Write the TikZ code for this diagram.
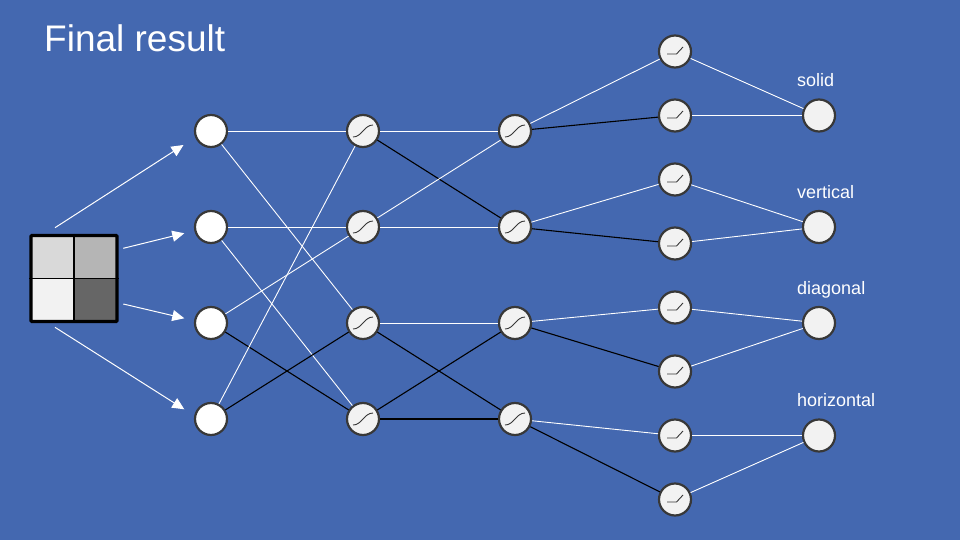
\documentclass[tikz,border=0pt]{standalone}
\usepackage{fontspec}
\setmainfont{Liberation Sans}
\usetikzlibrary{positioning, arrows.meta}
\definecolor{slide}{HTML}{4468B0}
\definecolor{rim}{HTML}{383838}
\definecolor{unitfill}{HTML}{F2F2F2}
\tikzset{node distance=96pt, % centre to centre within a layer
inp/.style={ % plain input neuron
circle, draw=rim, line width=2.2pt,
fill=white, minimum size=32pt, inner sep=0pt},
unit/.style={inp, fill=unitfill},
sig/.style={unit, % neuron with a sigmoid sketch
path picture={\draw[rim, line width=.9pt]
([xshift=-10pt,yshift=-6pt]path picture bounding box.center)
.. controls +(9pt,0pt) and +(-9pt,0pt) ..
([xshift=10pt,yshift=6pt]path picture bounding box.center);}},
relu/.style={unit, % neuron with a relu sketch
path picture={\draw[rim, line width=.9pt]
([xshift=-8pt,yshift=-2.5pt]path picture bounding box.center)
-- ++(9.5pt,0pt) -- ++(6.5pt,7pt);}},
every edge/.style={ % the wires between layers
draw, white, line width=.9pt},
neg/.style={black, line width=1.1pt},
arr/.style={draw, white, line width=1pt, -{Triangle[width=11pt,length=12pt]}},
lbl/.style={text=white, inner sep=0pt, anchor=base west,
font=\fontsize{18}{21}\selectfont}}

\begin{document}
\begin{tikzpicture}[x=1pt, y=-1pt]

    \fill[slide] (0,0) rectangle (960,540);
    \node[text=white, inner sep=0pt, anchor=base west, font=\fontsize{37}{44}\selectfont] (title) at (44,51.7) {Final result};

    % input picture
    \node[draw=black, line width=3.3pt, minimum size=86pt, inner sep=0pt, rounded corners=1pt,
      path picture={
        \fill[black!15] (path picture bounding box.north west) rectangle (path picture bounding box.center);
        \fill[black!29] (path picture bounding box.north east) rectangle (path picture bounding box.center);
        \fill[unitfill] (path picture bounding box.south west) rectangle (path picture bounding box.center);
        \fill[black!60] (path picture bounding box.south east) rectangle (path picture bounding box.center);
      }] (img) at (74,278.5) {};
    \draw[line width=1.3pt] (img.north) -- (img.south);
    \draw[line width=1.3pt] (img.west) -- (img.east);

    \node[inp] (i1) at (211,131) {};
    \node[inp, below of=i1] (i2) {};
    \node[inp, below of=i2] (i3) {};
    \node[inp, below of=i3] (i4) {};

    \node[sig, right of=i1, node distance=152pt] (h1) {};
    \node[sig, below of=h1] (h2) {};
    \node[sig, below of=h2] (h3) {};
    \node[sig, below of=h3] (h4) {};

    \node[sig, right of=h1, node distance=152pt] (m1) {};
    \node[sig, below of=m1] (m2) {};
    \node[sig, below of=m2] (m3) {};
    \node[sig, below of=m3] (m4) {};

    \node[relu] (r1) at (675,51.5) {};
    \node[relu, below of=r1, node distance=64pt] (r2) {};
    \node[relu, below of=r2, node distance=64pt] (r3) {};
    \node[relu, below of=r3, node distance=64pt] (r4) {};
    \node[relu, below of=r4, node distance=64pt] (r5) {};
    \node[relu, below of=r5, node distance=64pt] (r6) {};
    \node[relu, below of=r6, node distance=64pt] (r7) {};
    \node[relu, below of=r7, node distance=64pt] (r8) {};

    \node[unit, right of=r2, node distance=144pt] (o1) {};
    \node[unit, right of=m2, node distance=304pt] (o2) {};
    \node[unit, right of=m3, node distance=304pt] (o3) {};
    \node[unit, right of=r7, node distance=144pt] (o4) {};

    \node[lbl] (l1) at ([shift={(-22,-29)}]o1.center) {solid};
    \node[lbl] (l2) at ([shift={(-22,-29)}]o2.center) {vertical};
    \node[lbl] (l3) at ([shift={(-22,-29)}]o3.center) {diagonal};
    \node[lbl] (l4) at ([shift={(-22,-29)}]o4.center) {horizontal};

    % picture to inputs
    \coordinate (a1) at (55,227.7);
    \coordinate (b1) at (183.5,145);
    \coordinate (a2) at (123.3,248.3);
    \coordinate (b2) at (184.3,233.3);
    \coordinate (a3) at (123.3,304);
    \coordinate (b3) at (184.3,318.3);
    \coordinate (a4) at (55,327.3);
    \coordinate (b4) at (184.3,409.3);
    \draw[arr] (a1) -- (b1);
    \draw[arr] (a2) -- (b2);
    \draw[arr] (a3) -- (b3);
    \draw[arr] (a4) -- (b4);

    \draw (i1) edge (h1);
    \draw (i1) edge (h3);
    \draw (i2) edge (h2);
    \draw (i2) edge (h4);
    \draw (i3) edge (h2);
    \draw (i3) edge[neg] (h4);
    \draw (i4) edge (h1);
    \draw (i4) edge[neg] (h3);

    \draw (h1) edge (m1);
    \draw (h1) edge[neg] (m2);
    \draw (h2) edge (m2);
    \draw (h2) edge (m1);
    \draw (h3) edge (m3);
    \draw (h3) edge[neg] (m4);
    \draw (h4) edge[neg] (m3);
    \draw (h4) edge[neg] (m4);

    \draw (m1) edge (r1);
    \draw (m1) edge[neg] (r2);
    \draw (m2) edge (r3);
    \draw (m2) edge[neg] (r4);
    \draw (m3) edge (r5);
    \draw (m3) edge[neg] (r6);
    \draw (m4) edge (r7);
    \draw (m4) edge[neg] (r8);

    \draw (r1) edge (o1);
    \draw (r2) edge (o1);
    \draw (r3) edge (o2);
    \draw (r4) edge (o2);
    \draw (r5) edge (o3);
    \draw (r6) edge (o3);
    \draw (r7) edge (o4);
    \draw (r8) edge (o4);

\end{tikzpicture}
\end{document}
